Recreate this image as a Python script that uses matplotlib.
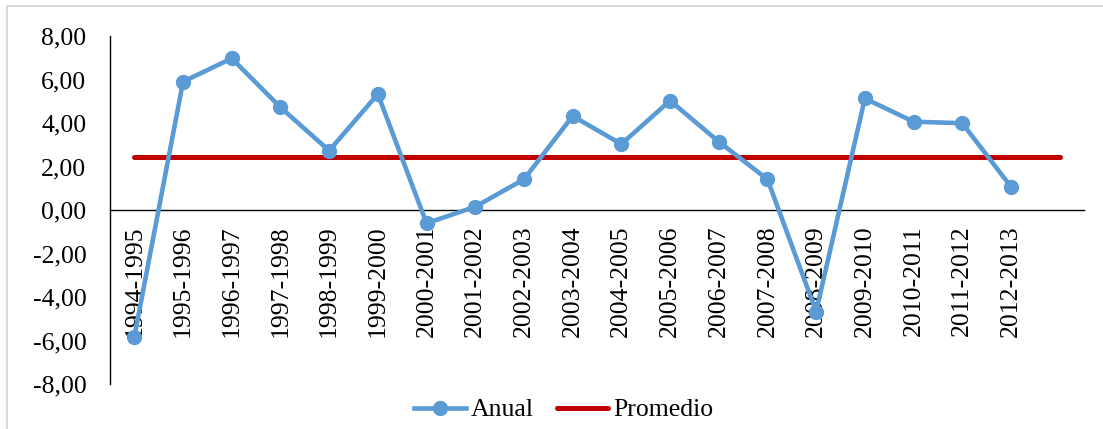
import matplotlib
matplotlib.use("Agg")
import matplotlib.pyplot as plt
from matplotlib.lines import Line2D

categories = ["1994-1995", "1995-1996", "1996-1997", "1997-1998", "1998-1999",
              "1999-2000", "2000-2001", "2001-2002", "2002-2003", "2003-2004",
              "2004-2005", "2005-2006", "2006-2007", "2007-2008", "2008-2009",
              "2009-2010", "2010-2011", "2011-2012", "2012-2013", ""]
anual = [-5.82, 5.90, 6.97, 4.72, 2.73, 5.33, -0.61, 0.15, 1.41, 4.32,
         3.03, 5.03, 3.14, 1.41, -4.67, 5.13, 4.06, 3.99, 1.07]
promedio = [2.42] * 20
yticks = [-8, -6, -4, -2, 0, 2, 4, 6, 8]

plt.rcParams['font.family'] = ['Liberation Serif', 'DejaVu Serif']
FS = 18.5

fig = plt.figure(figsize=(11.03, 4.29), dpi=100)
ax = fig.add_axes([110/1103, 1 - 384/429, (1084-110)/1103, (384-36)/429])

for s in ['top', 'right']:
    ax.spines[s].set_visible(False)
ax.spines['bottom'].set_position(('data', 0))
ax.spines['bottom'].set_color('black')
ax.spines['bottom'].set_linewidth(1.0)
ax.spines['bottom'].set_zorder(1)
ax.spines['left'].set_color('black')
ax.spines['left'].set_linewidth(1.0)

x_all = list(range(len(categories)))
ax.plot(x_all, promedio, color='#C00000', lw=3.6, solid_capstyle='round',
        label='Promedio', zorder=2)
ax.plot(x_all[:len(anual)], anual, color='#5B9BD5', lw=3.3, marker='o',
        markersize=10, label='Anual', zorder=3)

ax.set_xlim(-0.5, len(categories) - 0.5)
ax.set_ylim(-8, 8)
ax.set_yticks(yticks)
ax.set_yticklabels([f"{v:.2f}".replace('.', ',') for v in yticks], fontsize=FS)
ax.set_xticks(x_all)
ax.set_xticklabels(categories, rotation=90, fontsize=FS, va='top')
ax.tick_params(axis='both', length=0)
ax.tick_params(axis='x', pad=11)
ax.tick_params(axis='y', pad=17)

handles, labels = ax.get_legend_handles_labels()
order = [1, 0]
ax.legend([handles[i] for i in order], [labels[i] for i in order],
          loc='center', bbox_to_anchor=(564/1103, 1 - 410/429),
          bbox_transform=fig.transFigure, ncol=2, frameon=False,
          fontsize=FS, handlelength=2.0, handletextpad=0.2, columnspacing=0.9)

fig.add_artist(Line2D([7/1103, 7/1103], [0, 1 - 6/429], transform=fig.transFigure,
                      color='#D9D9D9', lw=1.5))
fig.add_artist(Line2D([7/1103, 1], [1 - 6/429, 1 - 6/429], transform=fig.transFigure,
                      color='#D9D9D9', lw=1.5))

fig.savefig('out.png', dpi=100)
